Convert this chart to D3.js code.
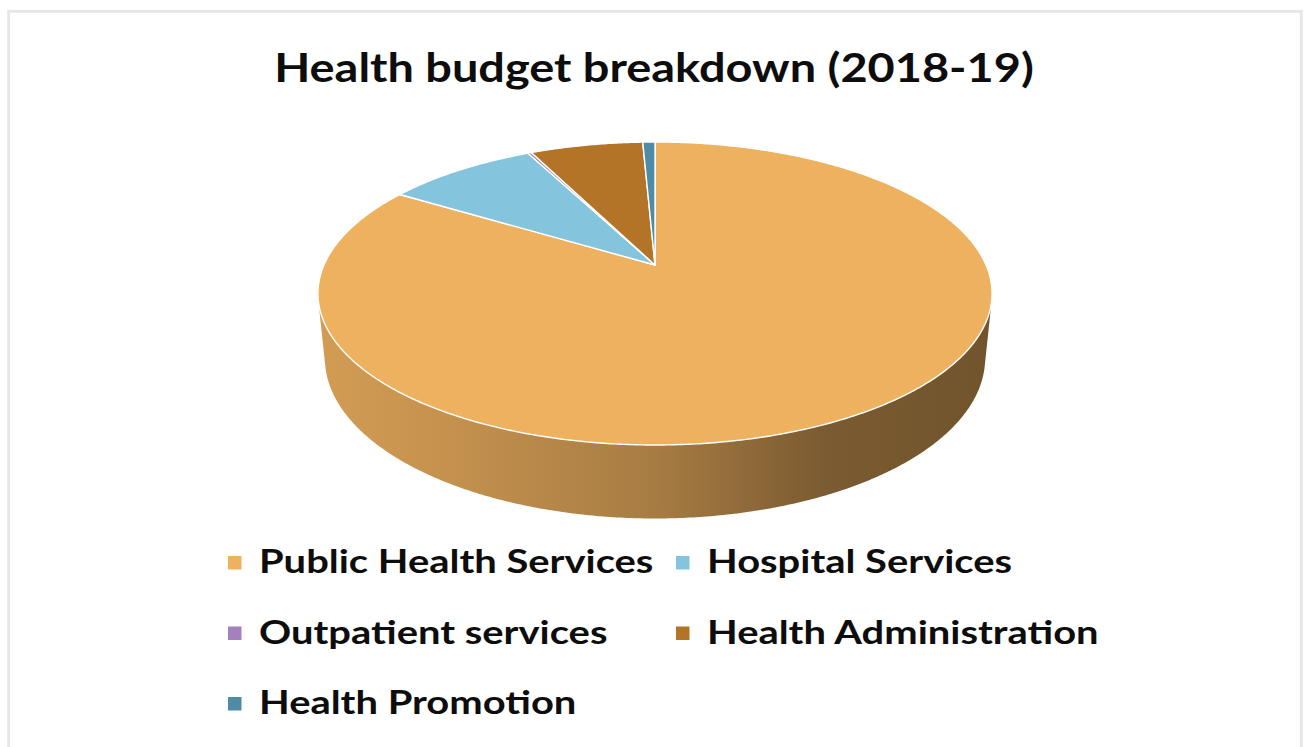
<!DOCTYPE html>
<html>
<head>
<meta charset="utf-8">
<script src="https://cdn.jsdelivr.net/npm/d3@7"></script>
<style>
  html, body { margin: 0; padding: 0; background: #ffffff; }
  svg { display: block; }
</style>
</head>
<body>
<svg id="chart" width="1304" height="747"></svg>
<script>
// Budget shares (% of total health budget, 2018-19)
const categories = [
  "Public Health Services",
  "Hospital Services",
  "Outpatient services",
  "Health Administration",
  "Health Promotion"
];
const shares = [83.9, 8.7, 0.2, 6.5, 0.7];
const colors = ["#eeb15f", "#84c4dd", "#a680be", "#b37428", "#4e8ba5"];
const chartTitle = "Health budget breakdown (2018-19)";

const svg = d3.select("#chart");

// outer chart frame
svg.append("rect")
  .attr("x", 8.7).attr("y", 11.3)
  .attr("width", 1292.6).attr("height", 760)
  .attr("fill", "#ffffff")
  .attr("stroke", "#e6e6e6")
  .attr("stroke-width", 2.8);

// title, stretched horizontally to the wide face used for the chart
const titleText = svg.append("text")
  .attr("x", 0).attr("y", 0)
  .attr("text-anchor", "middle")
  .attr("font-family", "Lato, 'Open Sans', sans-serif")
  .attr("font-size", 41)
  .attr("font-weight", 700)
  .attr("fill", "#0d0d0d")
  .text(chartTitle);
const titleWidth = 760;
const titleScale = titleWidth / titleText.node().getComputedTextLength();
titleText.attr("transform", `translate(654,82) scale(${titleScale},1)`);

// ---- 3D pie: a unit disc seen from above with perspective ----
const tilt = 26.2 * Math.PI / 180;
const cosT = Math.cos(tilt), sinT = Math.sin(tilt);
const camDist = 4.77;     // camera distance in disc radii
const focal = 1579;       // px
const thick = 0.218;      // disc thickness in radii
const cx = 655, cy = 265; // screen position of the disc centre

function project(x, y, z) {
  const depth = camDist + y * cosT - z * sinT;
  return [cx + focal * x / depth, cy - focal * (y * sinT + z * cosT) / depth];
}

function arcPoints(a0, a1, z) {
  const n = Math.max(2, Math.ceil((a1 - a0) / (Math.PI / 360)));
  return d3.range(n + 1).map(i => {
    const a = a0 + (a1 - a0) * i / n;
    return project(Math.sin(a), Math.cos(a), z);
  });
}

const pie = d3.pie().sort(null).value(d => d.value)
  .startAngle(0).endAngle(2 * Math.PI);
const arcs = pie(categories.map((c, i) => ({ name: c, value: shares[i], color: colors[i] })));

const line = d3.line();

// the outer wall is visible where it faces the camera
const visFrom = Math.acos(-1 / (camDist * cosT));
const visTo = 2 * Math.PI - visFrom;

const defs = svg.append("defs");
const xLight = project(Math.sin(visTo), Math.cos(visTo), 0)[0];
const xDark = project(Math.sin(visFrom), Math.cos(visFrom), 0)[0];
const shade = [[0, 0.35], [0.2, 0.55], [0.5, 1.0], [0.75, 1.85], [1, 2.1]];

arcs.forEach((d, i) => {
  const g = defs.append("linearGradient")
    .attr("id", "wall" + i)
    .attr("gradientUnits", "userSpaceOnUse")
    .attr("x1", xLight).attr("x2", xDark)
    .attr("y1", 0).attr("y2", 0);
  shade.forEach(([o, k]) => {
    g.append("stop").attr("offset", o).attr("stop-color", d3.color(d.data.color).darker(k).formatHex());
  });
});

const wallLayer = svg.append("g");
arcs.forEach((d, i) => {
  const lo = Math.max(d.startAngle, visFrom);
  const hi = Math.min(d.endAngle, visTo);
  if (hi <= lo) return;
  const pts = arcPoints(lo, hi, 0).concat(arcPoints(lo, hi, -thick).reverse());
  wallLayer.append("path")
    .attr("d", line(pts) + "Z")
    .attr("fill", `url(#wall${i})`);
});

const topLayer = svg.append("g");
arcs.forEach(d => {
  const pts = [project(0, 0, 0)].concat(arcPoints(d.startAngle, d.endAngle, 0));
  topLayer.append("path")
    .attr("d", line(pts) + "Z")
    .attr("fill", d.data.color)
    .attr("stroke", "#ffffff")
    .attr("stroke-width", 1.4)
    .attr("stroke-linejoin", "round");
});

// ---- legend ----
const colX = [228, 676];
const rowY = [573, 643.5, 714];
const legendStretch = 1.21;
const legend = svg.append("g")
  .attr("font-family", "Lato, 'Open Sans', sans-serif")
  .attr("font-size", 33)
  .attr("font-weight", 700)
  .attr("fill", "#0d0d0d");

categories.forEach((c, i) => {
  const x = colX[i % 2], y = rowY[Math.floor(i / 2)];
  legend.append("rect")
    .attr("x", x).attr("y", y - 17)
    .attr("width", 13.5).attr("height", 13.5)
    .attr("fill", colors[i]);
  legend.append("text")
    .attr("transform", `translate(${x + 31},${y}) scale(${legendStretch},1)`)
    .text(c);
});
</script>
</body>
</html>
